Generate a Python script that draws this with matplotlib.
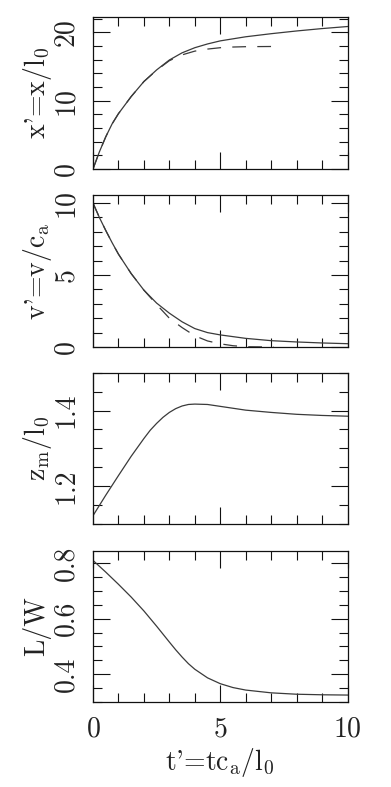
import matplotlib
matplotlib.use("Agg")
import matplotlib.pyplot as plt
from matplotlib.ticker import MultipleLocator, FormatStrFormatter

# ---------------- data ----------------
t_x = [0, 0.25, 0.5, 0.75, 1, 1.5, 2, 2.5, 3, 3.5, 4, 4.5, 5, 6, 7, 8, 9, 10]
x_solid = [0, 2.5, 4.7, 6.6, 8.1, 10.6, 12.8, 14.5, 15.95, 17.0, 17.75, 18.3,
           18.75, 19.35, 19.8, 20.2, 20.55, 20.85]
t_xd = [0, 0.25, 0.5, 0.75, 1, 1.5, 2, 2.5, 3, 3.5, 4, 4.5, 5, 5.5, 6, 7.1]
x_dash = [0, 2.5, 4.7, 6.6, 8.1, 10.6, 12.8, 14.45, 15.85, 16.7, 17.25, 17.55,
          17.75, 17.85, 17.9, 17.93]

t_v = [0, 0.25, 0.5, 0.75, 1, 1.5, 2, 2.5, 3, 3.5, 4, 4.5, 5, 6, 7, 8, 9, 10]
v_solid = [10, 9.0, 8.1, 7.25, 6.45, 5.1, 3.95, 3.05, 2.35, 1.75, 1.28, 1.0,
           0.84, 0.6, 0.44, 0.35, 0.28, 0.23]
t_vd = [0, 0.25, 0.5, 0.75, 1, 1.5, 2, 2.5, 3, 3.5, 4, 4.5, 5, 5.5, 6, 7.1]
v_dash = [10, 9.0, 8.1, 7.25, 6.45, 5.1, 3.95, 2.95, 2.0, 1.35, 0.78, 0.42,
          0.22, 0.09, 0.02, 0.0]

t_z = [0, 0.5, 1, 1.5, 2, 2.25, 2.5, 2.75, 3, 3.25, 3.5, 3.75, 4, 4.5, 5, 5.5,
       6, 7, 8, 9, 10]
z_m = [1.122, 1.176, 1.228, 1.279, 1.326, 1.348, 1.366, 1.382, 1.395, 1.405,
       1.412, 1.416, 1.417, 1.416, 1.411, 1.406, 1.401, 1.395, 1.39, 1.387,
       1.385]

t_l = [0, 0.5, 1, 1.5, 2, 2.5, 3, 3.25, 3.5, 3.75, 4, 4.5, 5, 5.5, 6, 7, 8,
       9, 10]
l_w = [0.81, 0.768, 0.724, 0.678, 0.628, 0.573, 0.516, 0.488, 0.462, 0.438,
       0.418, 0.387, 0.366, 0.352, 0.343, 0.333, 0.328, 0.326, 0.325]

ylabels = ["x'=x/l$_0$", "v'=v/c$_\\mathrm{a}$", "z$_\\mathrm{m}$/l$_0$", "L/W"]
xlabel = "t'=tc$_\\mathrm{a}$/l$_0$"

# ---------------- style ----------------
plt.rcParams['font.family'] = ['cmr10', 'DejaVu Serif']
plt.rcParams['mathtext.fontset'] = 'cm'
plt.rcParams['axes.formatter.use_mathtext'] = True

fig = plt.figure(figsize=(3.91, 7.87), dpi=100)

W = 391.0
H = 787.0
left, right = 93 / W, 347.5 / W
panels = [(17.3, 169.0), (194.7, 347.0), (372.7, 524.0), (550.7, 702.0)]
ylims = [(0, 22.2), (0, 10.58), (1.1, 1.5), (0.3, 0.845)]
ymaj = [10, 5, 0.2, 0.2]
ymin = [2, 1, 0.05, 0.05]
yfmt = ['%d', '%d', '%.1f', '%.1f']

lc = '#3a3a3a'
tc = '#222222'
axes = []
for i, (top, bot) in enumerate(panels):
    ax = fig.add_axes([left, 1 - bot / H, right - left, (bot - top) / H])
    axes.append(ax)
    ax.set_xlim(0, 10)
    ax.set_ylim(*ylims[i])
    ax.xaxis.set_major_locator(MultipleLocator(5))
    ax.xaxis.set_minor_locator(MultipleLocator(1))
    ax.yaxis.set_major_locator(MultipleLocator(ymaj[i]))
    ax.yaxis.set_minor_locator(MultipleLocator(ymin[i]))
    ax.yaxis.set_major_formatter(FormatStrFormatter(yfmt[i]))
    ax.tick_params(which='both', direction='in', top=True, right=True,
                   width=0.8, colors='#111111', labelcolor=tc,
                   labelsize=20, pad=10)
    ax.tick_params(which='major', length=12.5)
    ax.tick_params(which='minor', length=6.5)
    ax.tick_params(axis='y', labelrotation=90)
    for lab in ax.get_yticklabels():
        lab.set_va('center')
    for s in ax.spines.values():
        s.set_linewidth(0.9)
        s.set_color('#111111')
    if i < 3:
        ax.tick_params(axis='x', labelbottom=False)
    ax.set_ylabel(ylabels[i], fontsize=20, va='center', color=tc)
    ax.yaxis.set_label_coords(-0.22, 0.5)

axes[0].plot(t_x, x_solid, color=lc, lw=0.9)
axes[0].plot(t_xd, x_dash, color=lc, lw=0.9, dashes=(11, 9))
axes[1].plot(t_v, v_solid, color=lc, lw=0.9)
axes[1].plot(t_vd, v_dash, color=lc, lw=0.9, dashes=(11, 9))
axes[2].plot(t_z, z_m, color=lc, lw=0.9)
axes[3].plot(t_l, l_w, color=lc, lw=0.9)

axes[3].set_xlabel(xlabel, fontsize=20, va='center', color=tc)
axes[3].xaxis.set_label_coords(0.5, -0.397)

fig.savefig("out.png", dpi=100)
